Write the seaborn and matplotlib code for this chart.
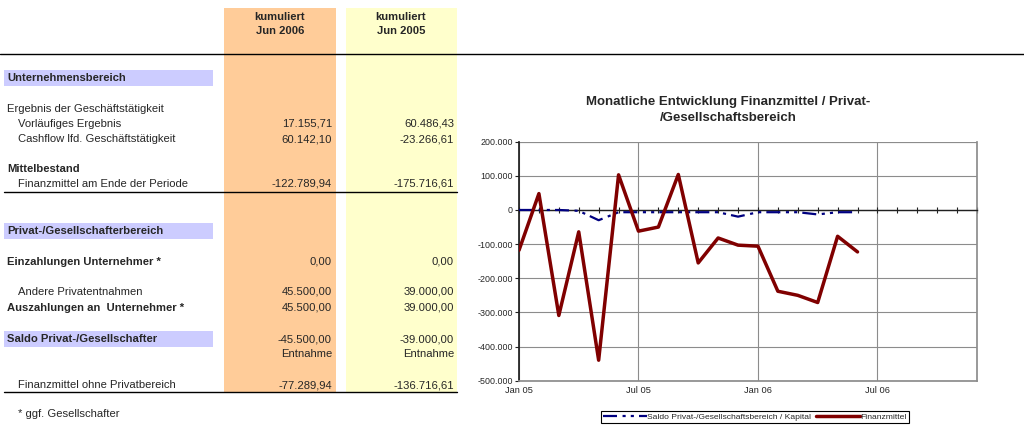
import numpy as np
import pandas as pd
import seaborn as sns
import matplotlib.pyplot as plt
from matplotlib.patches import Rectangle
from matplotlib.ticker import FuncFormatter, FixedLocator, MultipleLocator

#----------------------------------------------------------
# Data
#----------------------------------------------------------
months = ["Jan 05", "Feb 05", "Mar 05", "Apr 05", "May 05", "Jun 05",
          "Jul 05", "Aug 05", "Sep 05", "Oct 05", "Nov 05", "Dec 05",
          "Jan 06", "Feb 06", "Mar 06", "Apr 06", "May 06", "Jun 06"]
finanzmittel = [-118000, 48000, -309000, -64000, -440000, 103000,
                -62000, -50000, 104000, -155000, -82000, -103000,
                -106000, -238000, -250000, -271000, -77000, -122790]
saldo = [0, 0, 0, -2500, -30000, -6500,
         -6500, -6500, -6500, -6500, -6500, -19500,
         -6500, -6500, -6500, -13000, -6500, -6500]
xtick_labels = ["Jan 05", "Jul 05", "Jan 06", "Jul 06"]
ytick_values = [200000, 100000, 0, -100000, -200000, -300000, -400000, -500000]

column_headers = ["kumuliert\nJun 2006", "kumuliert\nJun 2005"]
section_labels = ["Unternehmensbereich", "Privat-/Gesellschafterbereich"]
row_labels = ["Ergebnis der Geschäftstätigkeit", "Vorläufiges Ergebnis",
              "Cashflow lfd. Geschäftstätigkeit", "Mittelbestand",
              "Finanzmittel am Ende der Periode", "Einzahlungen Unternehmer *",
              "Andere Privatentnahmen", "Auszahlungen an  Unternehmer *",
              "Saldo Privat-/Gesellschafter", "Finanzmittel ohne Privatbereich"]
kum_jun2006 = [None, 17155.71, 60142.10, None, -122789.94, 0.0,
               45500.0, 45500.0, -45500.0, -77289.94]
kum_jun2005 = [None, 60486.43, -23266.61, None, -175716.61, 0.0,
               39000.0, 39000.0, -39000.0, -136716.61]
saldo_note = "Entnahme"
footnote = "* ggf. Gesellschafter"
chart_title = "Monatliche Entwicklung Finanzmittel / Privat-\n/Gesellschaftsbereich"
legend_labels = ["Saldo Privat-/Gesellschaftsbereich / Kapital", "Finanzmittel"]

# layout of the table (pixels)
row_y = [109, 124, 139, 169, 184, 262, 292, 308, 339, 385]
row_x = [7, 18, 18, 7, 18, 7, 18, 7, 7, 18]
row_bold = [False, False, False, True, False, True, False, True, True, False]
section_y = [78, 231]


def de_format(v):
    s = f"{v:,.2f}"
    return s.replace(",", "X").replace(".", ",").replace("X", ".")


def main():
    sns.set_theme(style="white")
    plt.rcParams['font.family'] = ['Liberation Sans', 'DejaVu Sans']

    fig = plt.figure(figsize=(10.24, 4.32), dpi=100)

    #------------------------------------------------------
    # Table on the left
    #------------------------------------------------------
    bg = fig.add_axes([0, 0, 1, 1])
    bg.set_xlim(0, 1024)
    bg.set_ylim(432, 0)
    bg.axis('off')

    fs = 8.1
    bg.add_patch(Rectangle((224, 8), 112, 384, color="#FFCC99", lw=0))
    bg.add_patch(Rectangle((346, 8), 111, 384, color="#FFFFCC", lw=0))
    bg.text(280, 24, column_headers[0], ha='center', va='center',
            fontsize=fs, fontweight='bold', linespacing=1.6)
    bg.text(401, 24, column_headers[1], ha='center', va='center',
            fontsize=fs, fontweight='bold', linespacing=1.6)
    bg.plot([0, 1024], [54, 54], color='black', lw=1)

    for label, y in zip(section_labels, section_y):
        bg.add_patch(Rectangle((4, y - 8), 209, 16, color="#CCCCFF", lw=0))
        bg.text(7, y, label, ha='left', va='center', fontsize=fs, fontweight='bold')
    bg.add_patch(Rectangle((4, row_y[8] - 8), 209, 16, color="#CCCCFF", lw=0))

    for i, label in enumerate(row_labels):
        w = 'bold' if row_bold[i] else 'normal'
        bg.text(row_x[i], row_y[i], label, ha='left', va='center', fontsize=fs, fontweight=w)
        if kum_jun2006[i] is not None:
            bg.text(332, row_y[i], de_format(kum_jun2006[i]), ha='right', va='center', fontsize=fs)
        if kum_jun2005[i] is not None:
            bg.text(454, row_y[i], de_format(kum_jun2005[i]), ha='right', va='center', fontsize=fs)

    bg.text(332, 354, saldo_note, ha='right', va='center', fontsize=fs)
    bg.text(454, 354, saldo_note, ha='right', va='center', fontsize=fs)
    bg.plot([4, 457], [192, 192], color='black', lw=1)
    bg.plot([4, 457], [392, 392], color='black', lw=1)
    bg.text(18, 414, footnote, ha='left', va='center', fontsize=fs)

    #------------------------------------------------------
    # Line chart on the right
    #------------------------------------------------------
    ax = fig.add_axes([519 / 1024, (432 - 380.7) / 432, (977 - 519) / 1024, (380.7 - 141.7) / 432])
    ax.set_facecolor('white')

    df = pd.DataFrame({"month": np.arange(len(months)), "label": months,
                       "Saldo": saldo, "Finanzmittel": finanzmittel})

    sns.lineplot(data=df, x="month", y="Saldo", ax=ax, color="#000080", lw=1.6,
                 linestyle=(0, (6.3, 2.5, 1.4, 2.3, 1.4, 2.3)), label=legend_labels[0], zorder=4)
    sns.lineplot(data=df, x="month", y="Finanzmittel", ax=ax, color="#800000", lw=2.5,
                 label=legend_labels[1], zorder=5)

    ax.set_xlim(0, 23)
    ax.set_ylim(-500000, 200000)
    ax.set_xlabel("")
    ax.set_ylabel("")

    major_pos = [months.index(m) if m in months else 18 for m in xtick_labels]
    ax.xaxis.set_major_locator(FixedLocator(major_pos))
    ax.set_xticklabels(xtick_labels)
    ax.xaxis.set_minor_locator(MultipleLocator(1))
    ax.set_yticks(ytick_values)
    ax.yaxis.set_major_formatter(FuncFormatter(lambda v, p: f"{v:,.0f}".replace(",", ".")))

    ax.grid(True, which='major', color="#8c8c8c", lw=0.8)
    ax.set_axisbelow(True)

    # value axis crosses at zero
    ax.spines['top'].set_position(('data', 0))
    ax.spines['top'].set_color('#202020')
    ax.spines['top'].set_linewidth(1)
    ax.spines['top'].set_zorder(3)
    ax.spines['left'].set_color('#202020')
    ax.spines['right'].set_color('#8c8c8c')
    ax.spines['bottom'].set_color('#8c8c8c')
    ax.tick_params(axis='x', which='both', bottom=False, top=True, labelbottom=True,
                   labeltop=False, direction='inout', length=4, width=0.8,
                   color='#202020', labelsize=6.7, pad=2)
    ax.tick_params(axis='y', which='major', left=True, direction='out', length=3,
                   width=0.8, color='#202020', labelsize=6.4, pad=1.5)

    # extra gridline on the top border
    ax.axhline(200000, color="#8c8c8c", lw=0.8, zorder=0)

    fig.text(728 / 1024, 1 - 110 / 432, chart_title, ha='center', va='center',
             fontsize=9.5, fontweight='bold', linespacing=1.45)

    ax.legend(loc='center', bbox_to_anchor=(755 / 1024, 1 - 417 / 432),
              bbox_transform=fig.transFigure, ncol=2, fontsize=6.1,
              frameon=True, fancybox=False, edgecolor='black', framealpha=1,
              handlelength=5.2, handletextpad=0.0, columnspacing=0.6,
              borderpad=0.25, borderaxespad=0)
    ax.get_legend().get_frame().set_linewidth(0.8)

    fig.savefig("out.png", dpi=100)


if __name__ == "__main__":
    main()
